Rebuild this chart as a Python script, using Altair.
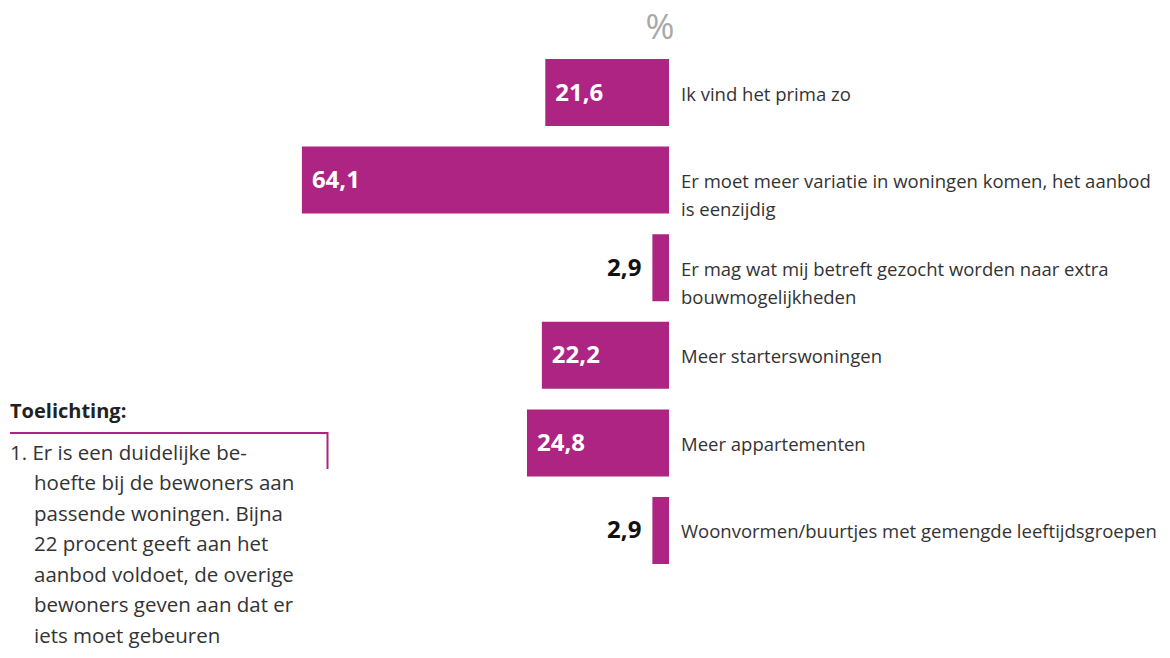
import altair as alt
import pandas as pd

categories = [
    "Ik vind het prima zo",
    "Er moet meer variatie in woningen komen, het aanbod is eenzijdig",
    "Er mag wat mij betreft gezocht worden naar extra bouwmogelijkheden",
    "Meer starterswoningen",
    "Meer appartementen",
    "Woonvormen/buurtjes met gemengde leeftijdsgroepen",
]
label_lines = [
    ["Ik vind het prima zo"],
    ["Er moet meer variatie in woningen komen, het aanbod", "is eenzijdig"],
    ["Er mag wat mij betreft gezocht worden naar extra", "bouwmogelijkheden"],
    ["Meer starterswoningen"],
    ["Meer appartementen"],
    ["Woonvormen/buurtjes met gemengde leeftijdsgroepen"],
]
values = [21.6, 64.1, 2.9, 22.2, 24.8, 2.9]

note_title = "Toelichting:"
note_first = "1. Er is een duidelijke be-"
note_rest = [
    "hoefte bij de bewoners aan",
    "passende woningen. Bijna",
    "22 procent geeft aan het",
    "aanbod voldoet, de overige",
    "bewoners geven aan dat er",
    "iets moet gebeuren",
]

MAGENTA = "#AD2482"
FONT = "Open Sans"

df = pd.DataFrame({
    "cat": categories,
    "value": values,
    "lines": label_lines,
    "label": [f"{v:.1f}".replace(".", ",") for v in values],
})

x_scale = alt.Scale(domain=[0, 100], range=[661, 88.3])
y_scale = alt.Scale(domain=categories, range=[51, 556], paddingInner=0.235, paddingOuter=0)

X = alt.X("value:Q", scale=x_scale, axis=None)
Y = alt.Y("cat:N", scale=y_scale, axis=None, sort=categories)

base = alt.Chart(df)

bars = base.mark_bar(color=MAGENTA).encode(
    x=X, x2=alt.datum(0), y=Y
)

inside = base.transform_filter("datum.value >= 10").mark_text(
    align="left", baseline="middle", dx=10, dy=1, color="white",
    font=FONT, fontSize=24, fontWeight="bold"
).encode(x=X, y=Y, text="label:N")

outside = base.transform_filter("datum.value < 10").mark_text(
    align="right", baseline="middle", dx=-11, dy=1, color="#111111",
    font=FONT, fontSize=24, fontWeight="bold"
).encode(x=X, y=Y, text="label:N")

cat_labels = base.mark_text(
    align="left", baseline="top", dx=12, dy=-7, color="#333333",
    font=FONT, fontSize=18.5, lineHeight=28
).encode(x=alt.datum(0), y=Y, text="lines")

pct = alt.Chart(pd.DataFrame({"t": ["%"]})).mark_text(
    align="center", baseline="alphabetic", color="#A8A8A8",
    font=FONT, fontSize=35, fontWeight=500
).encode(x=alt.value(652), y=alt.value(31), text="t:N")

n_title = alt.Chart(pd.DataFrame({"t": [note_title]})).mark_text(
    align="left", baseline="middle", color="#222222",
    font=FONT, fontSize=20, fontWeight="bold"
).encode(x=alt.value(2), y=alt.value(404), text="t:N")

n_first = alt.Chart(pd.DataFrame({"t": [note_first]})).mark_text(
    align="left", baseline="middle", color="#333333",
    font=FONT, fontSize=20.5
).encode(x=alt.value(2), y=alt.value(446), text="t:N")

n_rest = alt.Chart(pd.DataFrame({"t": [note_rest]})).mark_text(
    align="left", baseline="top", color="#333333",
    font=FONT, fontSize=20.5, lineHeight=30.5
).encode(x=alt.value(26), y=alt.value(466), text="t")

hline = alt.Chart(pd.DataFrame({"a": [0]})).mark_rule(
    color=MAGENTA, strokeWidth=2
).encode(x=alt.value(2), x2=alt.value(320), y=alt.value(425))

vline = alt.Chart(pd.DataFrame({"a": [0]})).mark_rule(
    color=MAGENTA, strokeWidth=2
).encode(x=alt.value(319.5), y=alt.value(424), y2=alt.value(461))

chart = alt.layer(
    bars, inside, outside, cat_labels, pct, n_title, n_first, n_rest, hline, vline
).properties(
    width=1154, height=642,
    autosize=alt.AutoSizeParams(type="none"),
    padding=0,
).configure(background="white", view=alt.ViewConfig(stroke=None))

chart.save("out.html", embed_options={"renderer": "svg", "actions": False})
